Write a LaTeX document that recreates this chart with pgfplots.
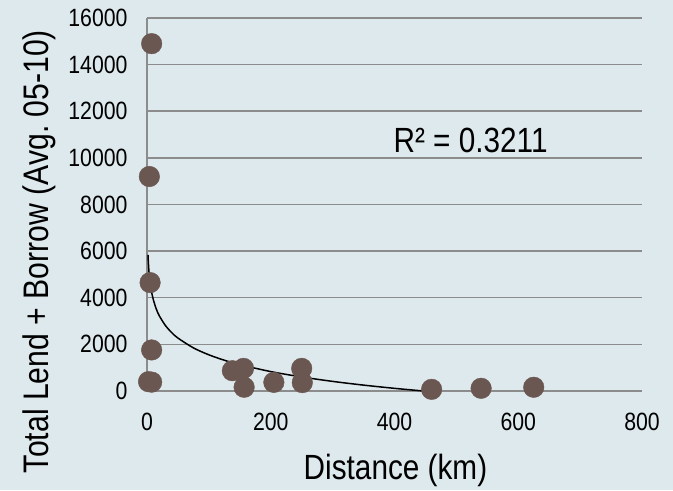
\documentclass[border=0pt]{standalone}
\usepackage{pgfplots}
\pgfplotsset{compat=1.18}
\usepackage{fontspec}
\setmainfont{Liberation Sans}[FakeStretch=0.85]
\definecolor{bgc}{RGB}{222,233,237}
\definecolor{gridc}{RGB}{140,140,140}
\definecolor{markc}{RGB}{107,87,81}
\begin{document}
\begin{tikzpicture}
\fill[bgc] (-147bp,-99bp) rectangle (526bp,391bp);
\begin{axis}[
  at={(0,0)}, anchor=south west,
  scale only axis, width=495bp, height=373bp,
  xmin=0, xmax=800, ymin=0, ymax=16000,
  xtick={0,200,400,600,800},
  ytick={0,2000,4000,6000,8000,10000,12000,14000,16000},
  scaled ticks=false,
  /pgf/number format/.cd, 1000 sep={}, assume math mode=true, /pgfplots/.cd,
  axis lines*=left,
  axis line style={draw=gridc},
  x axis line style={line width=1.5bp},
  y axis line style={line width=2.5bp},
  major tick length=0pt,
  ymajorgrids,
  major grid style={draw=gridc, line width=1.5bp},
  tick label style={font=\fontsize{25bp}{30bp}\selectfont, text=black},
  xticklabel style={yshift=-19bp},
  yticklabel style={xshift=-16bp},
  clip=false,
  xlabel={Distance (km)},
  ylabel={Total Lend + Borrow (Avg.\ 05-10)},
  xlabel style={at={(axis description cs:0.502,-0.2386)}, anchor=base, font=\fontsize{35bp}{40bp}\selectfont},
  ylabel style={at={(axis description cs:-0.198,0.374)}, anchor=base, font=\fontsize{35.5bp}{40bp}\selectfont},
]
\addplot[only marks, mark=*, mark size=10.3bp, mark options={draw=markc, fill=markc}] coordinates {
  (7.5,14900) (3.8,9200) (5,4650) (7.5,1760) (2.5,400) (7.5,380)
  (138,870) (156,970) (157,160) (205,370) (250,970) (251,360)
  (460,70) (540,115) (625,160)
};
\addplot[black, line width=1.5bp, smooth, no marks] coordinates {
  (1.6,5840) (2,5608) (3,5188) (4,4890) (5,4658) (7,4309) (10,3939) (15,3519)
  (20,3220) (30,2800) (40,2502) (50,2270) (75,1850) (100,1552) (125,1320)
  (150,1131) (200,833) (250,602) (300,412) (350,252) (400,114) (446,1)
};
\node[anchor=base, font=\fontsize{35bp}{40bp}\selectfont] at (axis cs:523,10215) {R² = 0.3211};
\end{axis}
\end{tikzpicture}
\end{document}
